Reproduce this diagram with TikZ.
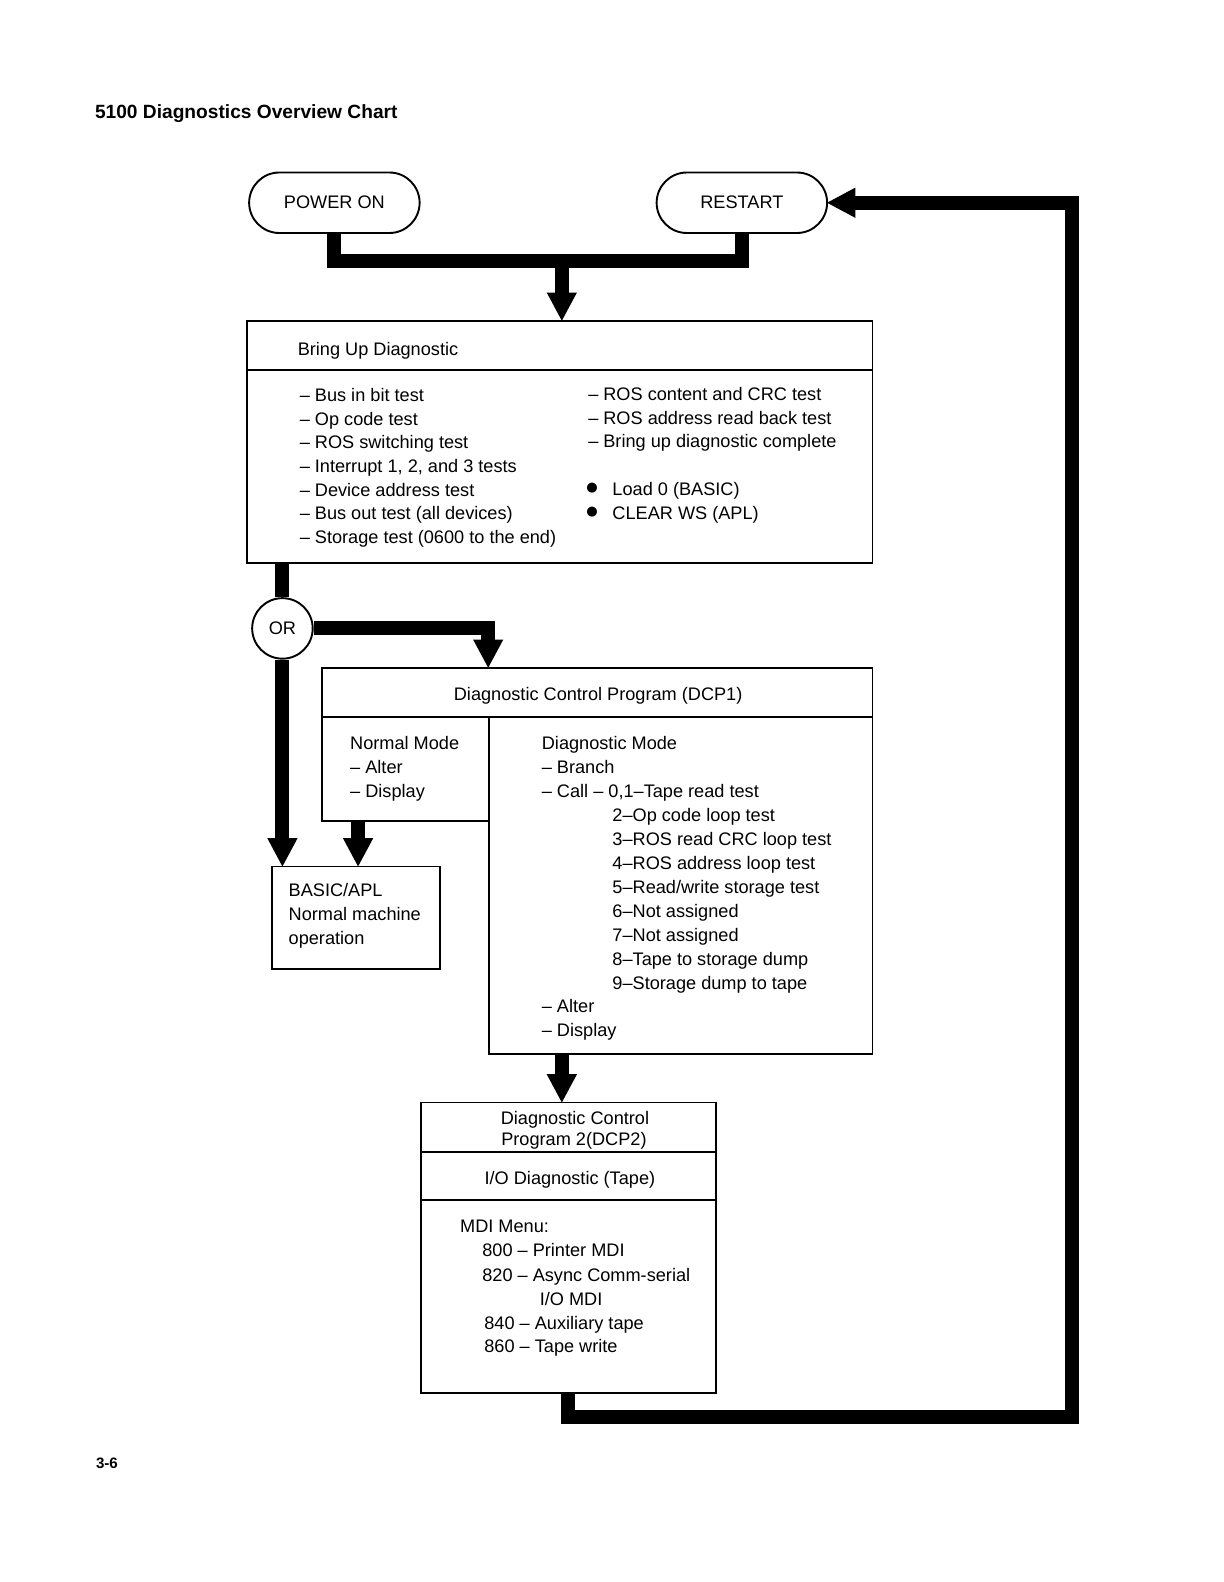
\documentclass[tikz,border=0pt]{standalone}
\usepackage{fontspec}
\setmainfont{Liberation Sans}
\newfontfamily\symfont{DejaVu Sans}
\usetikzlibrary{arrows.meta}
\begin{document}
\begin{tikzpicture}[x=1pt,y=-1pt,
  box/.style={draw, line width=1.9pt, inner sep=0pt, outer sep=0pt, anchor=north west, rectangle},
  txt/.style={anchor=base west, inner sep=0pt, font=\fontsize{18}{22}\selectfont},
  ctxt/.style={anchor=base, inner sep=0pt, font=\fontsize{18}{22}\selectfont},
  term/.style={draw, line width=1.9pt, rounded corners=30pt, minimum width=169pt, minimum height=60pt, inner sep=0pt, outer sep=0pt, font=\fontsize{18}{22}\selectfont},
  bar/.style={line width=14pt, line join=miter},
  arr/.style={bar, -{Triangle[length=28pt,width=30pt,line width=0pt]}},
  bul/.style={inner sep=0pt, font=\symfont\fontsize{13}{13}\selectfont}
]
\useasboundingbox (0,0) rectangle (1213.4,1568.4);

% title and page number
\node[txt, font=\bfseries\fontsize{19}{22}\selectfont] (title) at (94,117) {5100 Diagnostics Overview Chart};
\node[txt, font=\bfseries\fontsize{15}{15}\selectfont] (pg) at (95,1456) {3-6};

% terminals
\node[term] (pw) at (331.5,201) {POWER ON};
\node[term] (rs) at (735.5,201) {RESTART};

% Bring up diagnostic
\node[box, minimum width=620pt, minimum height=49pt] (buh) at (245,318) {};
\node[box, minimum width=620pt, minimum height=191pt] (bub) at (245,367) {};
\node[txt] (butitle) at (295,352) {Bring Up Diagnostic};
\foreach \t [count=\i from 0] in {{– Bus in bit test},{– Op code test},{– ROS switching test},{– Interrupt 1, 2, and 3 tests},{– Device address test},{– Bus out test (all devices)},{– Storage test (0600 to the end)}}
  \node[txt] (bl\i) at (297,398+23.5*\i) {\t};
\foreach \t [count=\i from 0] in {{– ROS content and CRC test},{– ROS address read back test},{– Bring up diagnostic complete}}
  \node[txt] (br\i) at (583,397+23.5*\i) {\t};
\node[bul] (bb1) at (587,484) {●};
\node[bul] (bb2) at (587,508) {●};
\node[txt] (bt1) at (607,491) {Load 0 (BASIC)};
\node[txt] (bt2) at (607,515) {CLEAR WS (APL)};

% OR
\node[draw, circle, line width=1.9pt, minimum size=60pt, inner sep=0pt, font=\fontsize{18}{22}\selectfont] (or) at (280,623) {OR};

% DCP1
\node[box, minimum width=546pt, minimum height=49pt] (dh) at (319,662) {};
\node[box, minimum width=166pt, minimum height=103pt] (nm) at (319,711) {};
\node[box, minimum width=380pt, minimum height=334pt] (dg) at (485,711) {};
\node[ctxt] (dhtext) at (593,694) {Diagnostic Control Program (DCP1)};
\foreach \t [count=\i from 0] in {{Normal Mode},{– Alter},{– Display}}
  \node[txt] (nm\i) at (347,743+23.75*\i) {\t};
\foreach \t [count=\i from 0] in {{Diagnostic Mode},{– Branch},{– Call – 0,1–Tape read test}}
  \node[txt] (dg\i) at (537,743+23.75*\i) {\t};
\foreach \t [count=\i from 3] in {{2–Op code loop test},{3–ROS read CRC loop test},{4–ROS address loop test},{5–Read/write storage test},{6–Not assigned},{7–Not assigned},{8–Tape to storage dump},{9–Storage dump to tape}}
  \node[txt] (dg\i) at (607,743+23.75*\i) {\t};
\node[txt] (dg11) at (537,743+23.75*11) {– Alter};
\node[txt] (dg12) at (537,743+23.75*12) {– Display};

% BASIC/APL
\node[box, minimum width=166pt, minimum height=102pt] (ba) at (270,859) {};
\foreach \t [count=\i from 0] in {{BASIC/APL},{Normal machine},{operation}}
  \node[txt] (ba\i) at (286,889+23.5*\i) {\t};

% DCP2
\node[box, minimum width=293pt, minimum height=49pt] (d2a) at (417,1093) {};
\node[box, minimum width=293pt, minimum height=48pt] (d2b) at (417,1142) {};
\node[box, minimum width=293pt, minimum height=191pt] (d2c) at (417,1190) {};
\node[ctxt] (d2t1) at (570,1115) {Diagnostic Control};
\node[ctxt] (d2t2) at (569,1136) {Program 2(DCP2)};
\node[ctxt] (d2t3) at (565,1174) {I/O Diagnostic (Tape)};
\node[txt] (m0) at (456,1222) {MDI Menu:};
\node[txt] (m1) at (478,1246) {800 – Printer MDI};
\node[txt] (m2) at (478,1270) {820 – Async Comm-serial};
\node[txt] (m3) at (535,1294) {I/O MDI};
\node[txt] (m4) at (480,1318) {840 – Auxiliary tape};
\node[txt] (m5) at (480,1341) {860 – Tape write};

% connectors
\coordinate (j1) at (557,259);
\draw[bar] (pw.south) |- (j1) -| (rs.south);
\draw[arr] (j1) -- (j1 |- buh.north);
\coordinate (o1) at (or.north |- bub.south);
\draw[bar] (o1) -- (or.north);
\coordinate (t2) at (484,662);
\draw[arr] (or.east) -| (t2);
\draw[arr] (or.south) -- (or.south |- ba.north);
\coordinate (n1) at (355,814);
\draw[arr] (n1) -- (n1 |- ba.north);
\coordinate (g1) at (557,1045);
\draw[arr] (g1) -- (g1 |- d2a.north);
\coordinate (r0) at (563,1381);
\coordinate (r1) at (1063,1405);
\draw[arr] (r0) |- (r1) |- (rs.east);
\end{tikzpicture}
\end{document}
